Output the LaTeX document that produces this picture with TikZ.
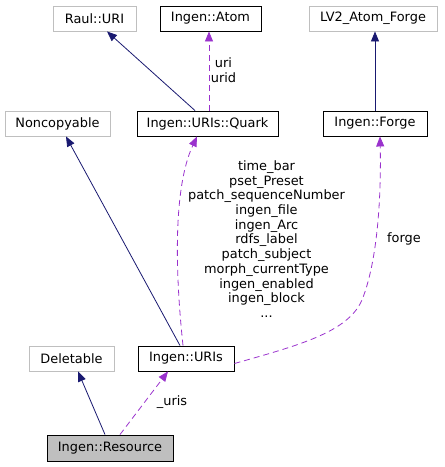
\documentclass[tikz,border=0pt]{standalone}
\usepackage{fontspec}
\setmainfont{DejaVu Sans}
\usepackage{tikz}
\usetikzlibrary{positioning, arrows.meta, calc}
\definecolor{edgeblue}{HTML}{191970}
\definecolor{edgepurple}{HTML}{9A32CD}
\definecolor{extgray}{HTML}{BFBFBF}
\tikzset{
  % documented class = black frame
  cls/.style={draw=black, line width=0.9pt, inner sep=0pt,
              minimum height=25pt, minimum width=#1,
              font=\fontsize{12.9}{14.7}\selectfont},
  % external class = gray frame
  extcls/.style={cls=#1, draw=extgray},
  % public inheritance
  inherit/.style={edgeblue, line width=0.8pt,
                  -{Triangle[length=10pt,width=8pt]}},
  % usage relation
  usage/.style={edgepurple, dashed, dash pattern=on 6pt off 4pt,
                line width=0.8pt, -{Triangle[length=10pt,width=8pt]}},
  lbl/.style={align=center, inner sep=0pt,
              font=\fontsize{12.9}{14.7}\selectfont},
}
\begin{document}
\begin{tikzpicture}[x=1pt, y=-1pt]
  \useasboundingbox (0,0) rectangle (445,467);
  % top row
  \node[extcls=83pt]  (rauluri) at ( 94.5, 18.5) {Raul::URI};
  \node[cls=101pt]    (atom)    at (210.5, 18.5) {Ingen::Atom};
  \node[extcls=128pt] (lvforge) at (373.0, 18.5) {LV2\_Atom\_Forge};
  % second row
  \node[extcls=105pt] (noncop)  at ( 57.5,123.5) {Noncopyable};
  \node[cls=141pt]    (quark)   at (207.5,123.5) {Ingen::URIs::Quark};
  \node[cls=104pt]    (forge)   at (375.0,123.5) {Ingen::Forge};
  % lower rows
  \node[extcls=85pt]  (deletable) at ( 71.5,358.5) {Deletable};
  \node[cls=96pt]     (uris)      at (186.0,358.5) {Ingen::URIs};
  \node[cls=126pt, fill=extgray, minimum height=26pt]
                      (resource)  at (110.0,448.0) {Ingen::Resource};

  % inheritance
  \draw[inherit] ([xshift=-12.5pt]quark.north) -- ([xshift=12.5pt]rauluri.south);
  \draw[inherit] (forge.north) -- (forge.north |- lvforge.south);
  \draw[inherit] ([xshift=-6pt]uris.north) -- ([xshift=8.5pt]noncop.south);
  \draw[inherit] ([xshift=-5pt]resource.north) -- ([xshift=6.5pt]deletable.south);

  % usage
  \draw[usage] ([xshift=1.5pt]quark.north) -- ([xshift=-1.5pt]atom.south);
  \node[lbl] (urilbl) at (223.5,70) {uri\\urid};
  \draw[usage] ([xshift=-3pt]uris.north)
    .. controls (176,280) and (172,190) .. ([xshift=-10.5pt]quark.south);
  \node[lbl] (quarklbl) at (266.5,239) {time\_bar\\pset\_Preset\\
    patch\_sequenceNumber\\ingen\_file\\ingen\_Arc\\rdfs\_label\\
    patch\_subject\\morph\_currentType\\ingen\_enabled\\ingen\_block\\...};
  \draw[usage] ([yshift=-5pt]uris.east)
    .. controls (300,345) and (348,332) .. (362,300)
    .. controls (380,255) and (381,180) .. ([xshift=5pt]forge.south);
  \node[lbl] (forgelbl) at (404,239) {forge};
  \draw[usage] ([xshift=10pt]resource.north) -- ([xshift=-18pt]uris.south);
  \node[lbl] (urislbl) at (172,402) {\_uris};
\end{tikzpicture}
\end{document}
